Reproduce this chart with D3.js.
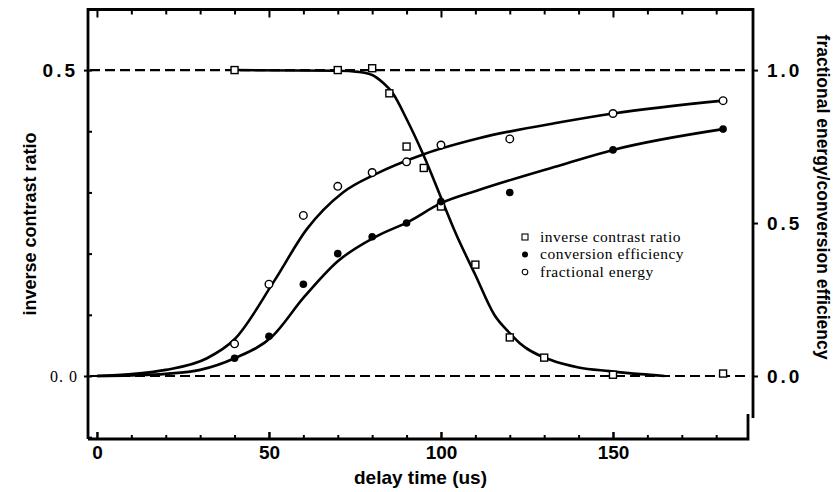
<!DOCTYPE html>
<html>
<head>
<meta charset="utf-8">
<script src="https://cdn.jsdelivr.net/npm/d3@7"></script>
<style>
  html, body { margin: 0; padding: 0; background: #fff; }
  svg { display: block; }
</style>
</head>
<body>
<svg id="chart" width="833" height="492"></svg>
<script>
// ---- tick labels ----
const delayTicks = [0, 50, 100, 150];
const leftTicks = [0, 0.5];
const rightTicks = [0, 0.5, 1.0];

// ---- measured points ----
const contrastDelay = [40, 70, 80, 85, 90, 95, 100, 110, 120, 130, 150, 182];
const contrastValue = [0.5, 0.5, 0.503, 0.462, 0.375, 0.34, 0.277, 0.182, 0.063, 0.03, 0.002, 0.004];

const efficiencyDelay = [40, 50, 60, 70, 80, 90, 100, 120, 150, 182];
const efficiencyValue = [0.058, 0.13, 0.30, 0.40, 0.455, 0.50, 0.57, 0.60, 0.739, 0.807];

const energyDelay = [40, 50, 60, 70, 80, 90, 100, 120, 150, 182];
const energyValue = [0.105, 0.30, 0.525, 0.62, 0.665, 0.70, 0.755, 0.775, 0.858, 0.90];

// ---- fitted curves ----
const contrastFitDelay = [40, 70, 76, 80, 83, 86, 90, 95, 100.7, 104, 110, 115.5, 120, 123, 132, 140, 149, 158, 165];
const contrastFitValue = [0.5, 0.499, 0.497, 0.492, 0.48, 0.462, 0.42, 0.36, 0.282, 0.237, 0.165, 0.10, 0.07, 0.053, 0.026, 0.014, 0.008, 0.003, 0.0];

const efficiencyFitDelay = [0, 10, 20, 30, 40, 51, 60, 70, 81, 90.5, 100, 111, 135, 150, 182];
const efficiencyFitValue = [0, 0.002, 0.007, 0.02, 0.058, 0.13, 0.255, 0.375, 0.455, 0.504, 0.565, 0.608, 0.69, 0.739, 0.807];

const energyFitDelay = [0, 10, 20, 32, 40, 51.5, 61, 71.5, 81, 95, 111, 135, 150, 182];
const energyFitValue = [0, 0.006, 0.02, 0.058, 0.12, 0.31, 0.48, 0.60, 0.66, 0.725, 0.777, 0.83, 0.858, 0.90];

// ---- legend ----
const legendLabels = ["inverse contrast ratio", "conversion efficiency", "fractional energy"];

// ---- layout ----
const svg = d3.select("#chart");
const plotLeft = 88, plotRight = 753, plotTop = 9.5, plotBottom = 439;

const x = d3.scaleLinear().domain([-2.6, 190.7]).range([plotLeft, plotRight]);
const yL = d3.scaleLinear().domain([-0.103, 0.599]).range([plotBottom, plotTop]);
const yR = d3.scaleLinear().domain([-0.206, 1.198]).range([plotBottom, plotTop]);

const sans = "'Liberation Sans', Arial, Helvetica, sans-serif";
const serif = "'Liberation Serif', 'Times New Roman', serif";

// reference dashed lines: 0 and 0.5 on the left scale (0 and 1.0 on the right)
const refLevels = [0, 0.5];
svg.append("g").selectAll("line").data(refLevels).join("line")
  .attr("x1", plotLeft + 2).attr("x2", plotRight - 4)
  .attr("y1", d => yL(d)).attr("y2", d => yL(d))
  .attr("stroke", "#000").attr("stroke-width", 2.2)
  .attr("stroke-dasharray", "10,5");

// ---- axes ----
const minorX = d3.range(0, 190, 10);
// bottom minor ticks (inward)
svg.append("g").attr("transform", `translate(0,${plotBottom})`)
  .call(d3.axisBottom(x).tickValues(minorX.filter(v => v % 50 !== 0)).tickSize(-4).tickFormat(""))
  .call(g => g.select(".domain").remove())
  .call(g => g.selectAll("line").attr("stroke-width", 2));
// bottom major ticks with labels
svg.append("g").attr("transform", `translate(0,${plotBottom})`)
  .call(d3.axisBottom(x).tickValues(delayTicks).tickSize(-7).tickPadding(7).tickFormat(d3.format("d")))
  .call(g => g.select(".domain").remove())
  .call(g => g.selectAll("line").attr("stroke-width", 2.5))
  .call(g => g.selectAll("text").attr("font-family", sans).attr("font-weight", "bold")
    .attr("font-size", 19).attr("fill", "#000"));

// top ticks (inward)
svg.append("g").attr("transform", `translate(0,${plotTop})`)
  .call(d3.axisTop(x).tickValues(minorX).tickSize(0).tickFormat(""))
  .call(g => g.select(".domain").remove())
  .call(g => g.selectAll(".tick line").attr("y2", d => d % 50 === 0 ? 8 : 5).attr("stroke-width", 2));

// left axis: minor ticks inward, labels at 0 and 0.5
svg.append("g").attr("transform", `translate(${plotLeft},0)`)
  .call(d3.axisLeft(yL).tickValues(d3.range(-0.1, 0.55, 0.1)).tickSize(-4).tickFormat(""))
  .call(g => g.select(".domain").remove())
  .call(g => g.selectAll("line").attr("stroke-width", 2));
svg.append("g").attr("transform", `translate(${plotLeft},0)`)
  .call(d3.axisLeft(yL).tickValues(leftTicks).tickSize(4).tickPadding(6)
    .tickFormat(d => d === 0 ? "0. 0" : "0.5"))
  .call(g => g.select(".domain").remove())
  .call(g => g.selectAll("line").attr("stroke-width", 2))
  .call(g => g.selectAll("text").attr("fill", "#000")
    .attr("font-family", d => d === 0 ? serif : sans)
    .attr("font-weight", d => d === 0 ? "normal" : "bold")
    .attr("font-size", d => d === 0 ? 16 : 19)
    .attr("letter-spacing", d => d === 0 ? 1 : 3));

// right axis
svg.append("g").attr("transform", `translate(${plotRight},0)`)
  .call(d3.axisRight(yR).tickValues(rightTicks).tickSize(5).tickPadding(9).tickFormat(d3.format(".1f")))
  .call(g => g.select(".domain").remove())
  .call(g => g.selectAll("line").attr("stroke-width", 2))
  .call(g => g.selectAll("text").attr("fill", "#000").attr("font-family", sans)
    .attr("font-weight", "bold").attr("font-size", 19).attr("letter-spacing", 3));

// frame
const cornerX = x.invert(748), jogY = yR.invert(418);
const frame = d3.path();
frame.moveTo(x(x.domain()[0]), yL(yL.domain()[0]));
frame.lineTo(x(x.domain()[0]), yL(yL.domain()[1]));
frame.lineTo(x(x.domain()[1]), yL(yL.domain()[1]));
frame.lineTo(x(x.domain()[1]), yR(jogY));
frame.moveTo(x(cornerX), yR(jogY) - 4);
frame.lineTo(x(cornerX), yL(yL.domain()[0]));
frame.lineTo(x(x.domain()[0]), yL(yL.domain()[0]));
svg.append("path").attr("d", frame.toString())
  .attr("fill", "none").attr("stroke", "#000").attr("stroke-width", 2.8);

// ---- fitted curves ----
const lineL = d3.line().x(d => x(d[0])).y(d => yL(d[1])).curve(d3.curveMonotoneX);
const lineR = d3.line().x(d => x(d[0])).y(d => yR(d[1])).curve(d3.curveMonotoneX);

svg.append("path").datum(d3.zip(contrastFitDelay, contrastFitValue))
  .attr("d", lineL).attr("fill", "none").attr("stroke", "#000").attr("stroke-width", 2.6);
svg.append("path").datum(d3.zip(efficiencyFitDelay, efficiencyFitValue))
  .attr("d", lineR).attr("fill", "none").attr("stroke", "#000").attr("stroke-width", 2.6);
svg.append("path").datum(d3.zip(energyFitDelay, energyFitValue))
  .attr("d", lineR).attr("fill", "none").attr("stroke", "#000").attr("stroke-width", 2.6);

// ---- markers ----
const sq = 7;
svg.append("g").selectAll("rect").data(d3.zip(contrastDelay, contrastValue)).join("rect")
  .attr("x", d => x(d[0]) - sq / 2).attr("y", d => yL(d[1]) - sq / 2)
  .attr("width", sq).attr("height", sq)
  .attr("fill", "#fff").attr("stroke", "#000").attr("stroke-width", 1.4);

svg.append("g").selectAll("circle").data(d3.zip(efficiencyDelay, efficiencyValue)).join("circle")
  .attr("cx", d => x(d[0])).attr("cy", d => yR(d[1])).attr("r", 3.8)
  .attr("fill", "#000");

svg.append("g").selectAll("circle").data(d3.zip(energyDelay, energyValue)).join("circle")
  .attr("cx", d => x(d[0])).attr("cy", d => yR(d[1])).attr("r", 3.8)
  .attr("fill", "#fff").attr("stroke", "#000").attr("stroke-width", 1.4);

// ---- legend ----
const legend = svg.append("g").attr("transform", "translate(525,237)");
const rowH = 17.5;
legend.append("rect").attr("x", -3).attr("y", -3).attr("width", 6).attr("height", 6)
  .attr("fill", "#fff").attr("stroke", "#000").attr("stroke-width", 1.1);
legend.append("circle").attr("cx", 0).attr("cy", rowH).attr("r", 3).attr("fill", "#000");
legend.append("circle").attr("cx", 0).attr("cy", rowH * 2).attr("r", 2.8)
  .attr("fill", "#fff").attr("stroke", "#000").attr("stroke-width", 1.1);
legend.selectAll("text").data(legendLabels).join("text")
  .attr("x", 15).attr("y", (d, i) => i * rowH).attr("dy", "0.32em")
  .attr("font-family", serif).attr("font-size", 15.5).attr("letter-spacing", 0.5)
  .attr("fill", "#000").text(d => d);

// ---- axis titles ----
svg.append("text")
  .attr("x", (x(x.domain()[0]) + x(x.domain()[1])) / 2).attr("y", 484)
  .attr("text-anchor", "middle").attr("font-family", sans).attr("font-weight", "bold")
  .attr("font-size", 19).attr("fill", "#000").text("delay time (us)");

svg.append("text")
  .attr("transform", "translate(30,224) rotate(-90)")
  .attr("text-anchor", "middle").attr("dy", "0.35em")
  .attr("font-family", sans).attr("font-weight", "bold").attr("font-size", 18)
  .attr("fill", "#000").text("inverse contrast ratio");

svg.append("text")
  .attr("transform", "translate(823,197) rotate(90)")
  .attr("text-anchor", "middle").attr("dy", "0.35em")
  .attr("font-family", sans).attr("font-weight", "bold").attr("font-size", 17.5)
  .attr("fill", "#000").text("fractional energy/conversion efficiency");
</script>
</body>
</html>
